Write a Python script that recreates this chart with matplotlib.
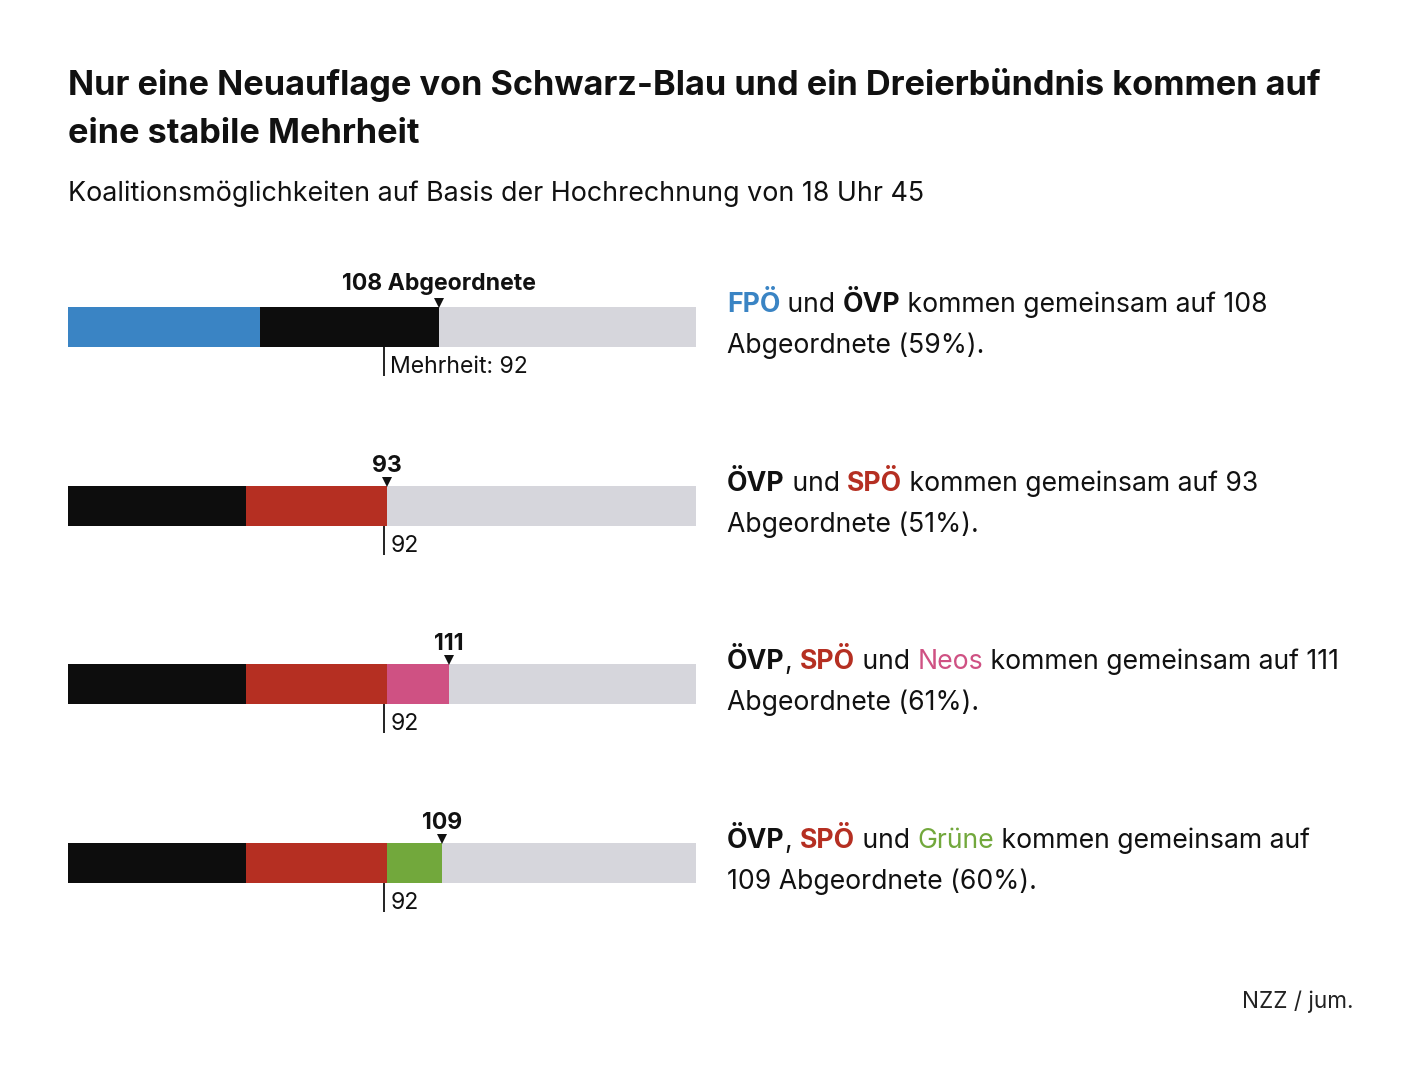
import matplotlib
matplotlib.use("Agg")
import matplotlib.pyplot as plt

# ---------------- data ----------------
total_seats = 183
majority = 92
coalitions = ["FPÖ+ÖVP", "ÖVP+SPÖ", "ÖVP+SPÖ+Neos", "ÖVP+SPÖ+Grüne"]
parties_per_row = [["FPÖ", "ÖVP"], ["ÖVP", "SPÖ"], ["ÖVP", "SPÖ", "Neos"], ["ÖVP", "SPÖ", "Grüne"]]
seats = {"FPÖ": 56, "ÖVP": 52, "SPÖ": 41, "Neos": 18, "Grüne": 16}
colors = {"FPÖ": "#3a84c4", "ÖVP": "#0d0d0d", "SPÖ": "#b52f22", "Neos": "#cf5183", "Grüne": "#72a83c"}
total_labels = ["108 Abgeordnete", "93", "111", "109"]
majority_labels = ["Mehrheit: 92", "92", "92", "92"]

title_lines = ["Nur eine Neuauflage von Schwarz-Blau und ein Dreierbündnis kommen auf",
               "eine stabile Mehrheit"]
subtitle = "Koalitionsmöglichkeiten auf Basis der Hochrechnung von 18 Uhr 45"
source = "NZZ / jum."

BLACK = "#111111"
# rich text descriptions (text, color, bold) per line
desc = [
    [[("FPÖ", colors["FPÖ"], True), (" und ", BLACK, False), ("ÖVP", BLACK, True),
      (" kommen gemeinsam auf 108", BLACK, False)],
     [("Abgeordnete (59%).", BLACK, False)]],
    [[("ÖVP", BLACK, True), (" und ", BLACK, False), ("SPÖ", colors["SPÖ"], True),
      (" kommen gemeinsam auf 93", BLACK, False)],
     [("Abgeordnete (51%).", BLACK, False)]],
    [[("ÖVP", BLACK, True), (", ", BLACK, False), ("SPÖ", colors["SPÖ"], True), (" und ", BLACK, False),
      ("Neos", colors["Neos"], False), (" kommen gemeinsam auf 111", BLACK, False)],
     [("Abgeordnete (61%).", BLACK, False)]],
    [[("ÖVP", BLACK, True), (", ", BLACK, False), ("SPÖ", colors["SPÖ"], True), (" und ", BLACK, False),
      ("Grüne", colors["Grüne"], False), (" kommen gemeinsam auf", BLACK, False)],
     [("109 Abgeordnete (60%).", BLACK, False)]],
]

FONT = "Inter"
plt.rcParams["font.family"] = [FONT, "DejaVu Sans"]

W, H = 1420, 1082
fig = plt.figure(figsize=(W / 100, H / 100), dpi=100)
fig.patch.set_facecolor("white")

def fx(px):
    return px / W

def fy(py):
    return 1 - py / H

# titles
fig.text(fx(68), fy(95), title_lines[0], fontsize=24.7, fontweight="bold", color=BLACK,
         va="baseline", ha="left")
fig.text(fx(68), fy(143), title_lines[1], fontsize=24.7, fontweight="bold", color=BLACK,
         va="baseline", ha="left")
fig.text(fx(68), fy(201), subtitle, fontsize=19.3, color=BLACK, va="baseline", ha="left")
fig.text(fx(1353), fy(1008), source, fontsize=16.2, color="#222222", va="baseline", ha="right")

# bar axes: x in seats, y in row index
row_spacing_px = 178.7
top_pad, bot_pad = 0.8, 0.6
n = len(coalitions)
ax_top_px = 327 - top_pad * row_spacing_px
ax_h_px = (n - 1 + top_pad + bot_pad) * row_spacing_px
ax = fig.add_axes([fx(68), fy(ax_top_px + ax_h_px), fx(696) - fx(68), ax_h_px / H])
ax.set_xlim(0, total_seats)
ax.set_ylim(n - 1 + bot_pad, -top_pad)
ax.axis("off")

bar_h = 40 / row_spacing_px
px = 1 / row_spacing_px
for i, plist in enumerate(parties_per_row):
    ax.barh(i, total_seats, height=bar_h, color="#d6d6dc", left=0)
    left = 0
    for p in plist:
        ax.barh(i, seats[p], height=bar_h, left=left, color=colors[p])
        left += seats[p]
    tot = left
    # triangle marker
    ax.plot([tot], [i - bar_h / 2 - 4 * px], marker="v", color=BLACK, markersize=7,
            markeredgewidth=0, clip_on=False)
    ax.text(tot, i - bar_h / 2 - (17 if i == 0 else 14) * px, total_labels[i], ha="center",
            va="baseline", fontsize=16.6, fontweight="bold", color=BLACK)
    # majority line
    ax.plot([majority, majority], [i + bar_h / 2, i + bar_h / 2 + 29 * px],
            color=BLACK, lw=1.3, solid_capstyle="butt", clip_on=False)
    ax.text(majority + 1.9, i + bar_h / 2 + 26 * px, majority_labels[i], ha="left", va="baseline",
            fontsize=16.6, color=BLACK)

# rich text descriptions
def rich_line(x_px, y_px, parts, size=19.15):
    last = None
    for s, c, b in parts:
        kw = dict(fontsize=size, color=c, fontweight="bold" if b else "normal")
        if last is None:
            last = fig.text(fx(x_px), fy(y_px), s, ha="left", va="baseline", **kw)
        else:
            last = ax.annotate(s, xy=(1, 0), xycoords=last, va="bottom", ha="left",
                               annotation_clip=False, **kw)

for i, lines in enumerate(desc):
    yc = 327 + i * row_spacing_px
    rich_line(727, yc - 15, lines[0])
    rich_line(727, yc + 26, lines[1])

fig.savefig("out.png", dpi=100, facecolor="white")
